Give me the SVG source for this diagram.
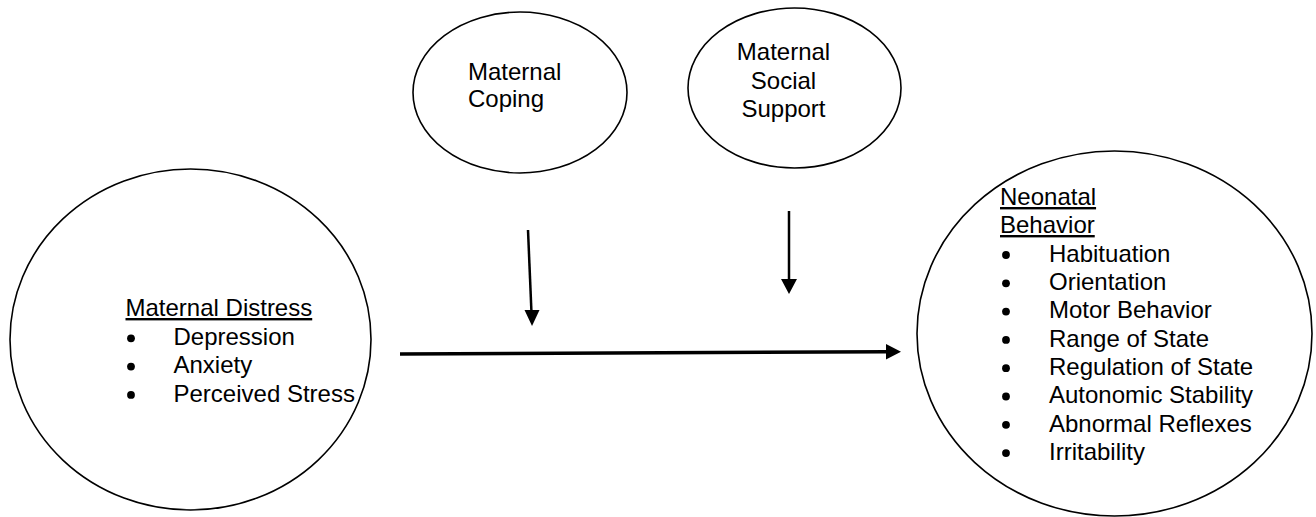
<svg xmlns="http://www.w3.org/2000/svg" width="1316" height="517" viewBox="0 0 1316 517">
<style>
.node{fill:#fff;stroke:#000;stroke-width:1.6}
.t{font-family:"Liberation Sans",Arial,sans-serif;font-size:24px;fill:#000}
.u{text-decoration:underline}
.b{fill:#000}
.c{stroke:#000;fill:none}
.h{fill:#000;stroke:none}
</style>
<rect width="1316" height="517" fill="#fff"/>
<g id="maternal-distress">
<ellipse class="node" cx="190.5" cy="339.5" rx="180.5" ry="170.5"/>
<text class="t u" x="125.5" y="316">Maternal Distress</text>
<circle class="b" cx="131" cy="338.3" r="3.9"/><text class="t" x="173.5" y="345">Depression</text>
<circle class="b" cx="131" cy="366.6" r="3.9"/><text class="t" x="173.5" y="373.3">Anxiety</text>
<circle class="b" cx="131" cy="394.9" r="3.9"/><text class="t" x="173.5" y="401.6">Perceived Stress</text>
</g>
<g id="maternal-coping">
<ellipse class="node" cx="520" cy="92.5" rx="107" ry="80.5"/>
<text class="t" x="468" y="80">Maternal</text>
<text class="t" x="468" y="107">Coping</text>
</g>
<g id="maternal-social-support">
<ellipse class="node" cx="794.5" cy="88" rx="106.5" ry="80"/>
<text class="t" x="783.5" y="60" text-anchor="middle">Maternal</text>
<text class="t" x="783.5" y="88.5" text-anchor="middle">Social</text>
<text class="t" x="783.5" y="116.5" text-anchor="middle">Support</text>
</g>
<g id="neonatal-behavior">
<ellipse class="node" cx="1114.5" cy="333.5" rx="197.5" ry="182.5"/>
<text class="t u" x="1000" y="205">Neonatal</text>
<text class="t u" x="1000" y="233">Behavior</text>
<circle class="b" cx="1006" cy="255" r="3.9"/><text class="t" x="1049" y="261.7">Habituation</text>
<circle class="b" cx="1006" cy="283.3" r="3.9"/><text class="t" x="1049" y="290">Orientation</text>
<circle class="b" cx="1006" cy="311.6" r="3.9"/><text class="t" x="1049" y="318.3">Motor Behavior</text>
<circle class="b" cx="1006" cy="339.9" r="3.9"/><text class="t" x="1049" y="346.6">Range of State</text>
<circle class="b" cx="1006" cy="368.2" r="3.9"/><text class="t" x="1049" y="374.9">Regulation of State</text>
<circle class="b" cx="1006" cy="396.5" r="3.9"/><text class="t" x="1049" y="403.2">Autonomic Stability</text>
<circle class="b" cx="1006" cy="424.8" r="3.9"/><text class="t" x="1049" y="431.5">Abnormal Reflexes</text>
<circle class="b" cx="1006" cy="453.1" r="3.9"/><text class="t" x="1049" y="459.8">Irritability</text>
</g>
<g id="connectors">
<line class="c" x1="400" y1="354" x2="887" y2="351.8" stroke-width="3.5"/>
<polygon class="h" points="901,351.7 886,344 886,359.4"/>
<line class="c" x1="528" y1="230" x2="531.4" y2="311" stroke-width="2.5"/>
<polygon class="h" points="532,326 524.5,310 539.5,310"/>
<line class="c" x1="789" y1="211" x2="789" y2="280" stroke-width="2.5"/>
<polygon class="h" points="789,294 781,279 797,279"/>
</g>
</svg>
